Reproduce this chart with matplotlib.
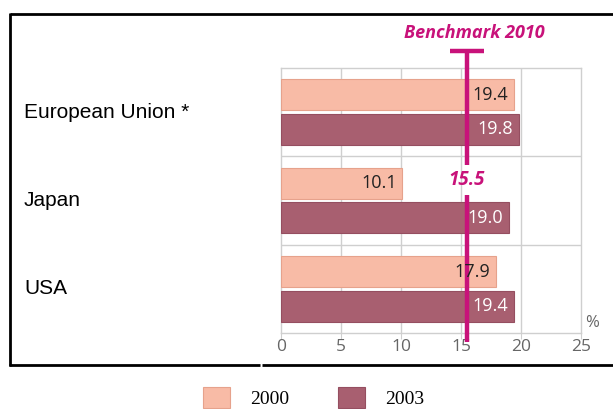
import matplotlib
matplotlib.use("Agg")
import matplotlib.pyplot as plt
from matplotlib.lines import Line2D
from matplotlib.patches import Rectangle
from matplotlib.transforms import blended_transform_factory

# Data
categories = ["European Union *", "Japan", "USA"]
years = ["2000", "2003"]
values_2000 = [19.4, 10.1, 17.9]
values_2003 = [19.8, 19.0, 19.4]
benchmark = 15.5
benchmark_label = "Benchmark 2010"
x_ticks = [0, 5, 10, 15, 20, 25]

# Styles
c2000, e2000 = "#F8BBA6", "#E6A28C"
c2003, e2003 = "#A85F70", "#954E60"
magenta = "#C8127A"
grid_c = "#CFCFCF"
tick_c = "#666666"
num_font = "Open Sans"

W, H = 613, 409
fig = plt.figure(figsize=(W / 100, H / 100), dpi=100)
ax = fig.add_axes([281 / W, 1 - 333 / H, 300 / W, 265 / H])

ypos = list(range(len(categories)))
off, bh = 0.195, 0.35
y2000 = [y - off for y in ypos]
y2003 = [y + off for y in ypos]
ax.barh(y2000, values_2000, height=bh, color=c2000, edgecolor=e2000, linewidth=0.8, zorder=3)
ax.barh(y2003, values_2003, height=bh, color=c2003, edgecolor=e2003, linewidth=0.8, zorder=3)

ax.set_xlim(0, 25)
ax.set_ylim(2.5, -0.5)

# grid: vertical lines at the ticks, horizontal separators between groups
for xv in x_ticks[1:-1]:
    ax.axvline(xv, color=grid_c, lw=1, zorder=1)
for yv in [0.5, 1.5]:
    ax.axhline(yv, color=grid_c, lw=1, zorder=1)
for s in ax.spines.values():
    s.set_color(grid_c)
    s.set_linewidth(1)

ax.set_yticks([])
ax.set_xticks(x_ticks)
ax.set_xticklabels([str(t) for t in x_ticks], fontsize=12.5, color=tick_c, family=num_font)
ax.tick_params(axis="x", length=4, color=grid_c, pad=0)

ax.text(1.037, 0.038, "%", transform=ax.transAxes, fontsize=12, color=tick_c,
        family=num_font, ha="center", va="center")

# value labels inside the bar ends
for y, v in zip(y2000, values_2000):
    ax.annotate(f"{v:.1f}", (v, y), xytext=(-4, 0), textcoords="offset points",
                ha="right", va="center", fontsize=13, color="#222222",
                family=num_font, zorder=5)
for y, v in zip(y2003, values_2003):
    ax.annotate(f"{v:.1f}", (v, y), xytext=(-4, 0), textcoords="offset points",
                ha="right", va="center", fontsize=13, color="white",
                family=num_font, zorder=5)

# benchmark line with a gap for its value
gap_top, gap_bot = 0.60, 0.94
ax.plot([benchmark, benchmark], [-0.70, gap_top], color=magenta, lw=3.2,
        solid_capstyle="butt", clip_on=False, zorder=4)
ax.plot([benchmark, benchmark], [gap_bot, 2.60], color=magenta, lw=3.2,
        solid_capstyle="butt", clip_on=False, zorder=4)
ax.plot([benchmark - 1.4, benchmark + 1.4], [-0.69, -0.69], color=magenta, lw=3.2,
        solid_capstyle="butt", clip_on=False, zorder=4)
ax.text(benchmark, (gap_top + gap_bot) / 2, f"{benchmark:.1f}", color=magenta,
        fontsize=13.5, fontweight="bold", fontstyle="italic", family=num_font,
        ha="center", va="center", zorder=5)
ax.text(benchmark + 0.6, -0.9, benchmark_label, color=magenta, fontsize=13,
        fontweight="bold", fontstyle="italic", family=num_font,
        ha="center", va="center", clip_on=False)

# category labels on the left
trans = blended_transform_factory(fig.transFigure, ax.transData)
for y, name in zip(ypos, categories):
    ax.text(24 / W, y, name, transform=trans, fontsize=15, family="Liberation Sans",
            ha="left", va="center", color="black")

# outer frame
def fline(x0, y0, x1, y1, lw=2.0):
    fig.add_artist(Line2D([x0 / W, x1 / W], [1 - y0 / H, 1 - y1 / H],
                          color="black", lw=lw, solid_capstyle="butt"))

fline(10, 14, W, 14)
fline(10, 13, 10, 366)
fline(9, 365, 260, 365)
fline(262, 365, W, 365)

# legend
for (x0, label), col, ec in zip([(203, years[0]), (338, years[1])], [c2000, c2003], [e2000, e2003]):
    fig.add_artist(Rectangle((x0 / W, 1 - 408 / H), 27 / W, 21 / H,
                             facecolor=col, edgecolor=ec, lw=0.8, transform=fig.transFigure))
    fig.text((x0 + 47) / W, 1 - 400 / H, label, fontsize=14, family="Liberation Serif",
             ha="left", va="center", color="black")

fig.savefig("out.png", dpi=100)
